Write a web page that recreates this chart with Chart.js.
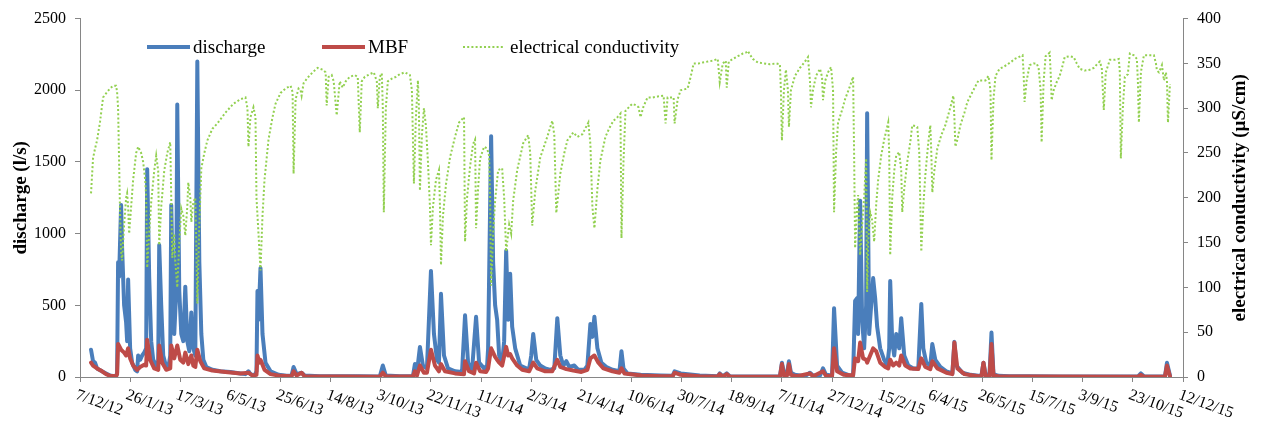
<!DOCTYPE html>
<html>
<head>
<meta charset="utf-8">
<script src="https://cdn.jsdelivr.net/npm/chart.js@4"></script>
<style>
html,body{margin:0;padding:0;background:#fff;}
#wrap{width:1261px;height:428px;position:relative;}
</style>
</head>
<body>
<div id="wrap"><canvas id="c"></canvas></div>
<script>
// x values: days since 7/12/12
const tickLabels = ["7/12/12","26/1/13","17/3/13","6/5/13","25/6/13","14/8/13","3/10/13","22/11/13","11/1/14","2/3/14","21/4/14","10/6/14","30/7/14","18/9/14","7/11/14","27/12/14","15/2/15","6/4/15","26/5/15","15/7/15","3/9/15","23/10/15","12/12/15"];
const seriesNames = ["discharge","MBF","electrical conductivity"];
const axisTitles = ["discharge (l/s)", "electrical conductivity (µS/cm)"];

const dischargeSeries = [
[11,190],[13,110],[15,100],[17,60],[22,40],[26,25],[30,10],[34,5],[36,5],[37,30],[38,800],[39,700],[41,1200],[42,900],[44,500],[46,380],[47,250],[48,680],[50,200],[52,100],[55,50],[57,40],[58,150],[60,120],[62,150],[64,170],[66,200],[67,1450],[69,700],[71,250],[73,120],[76,80],[78,100],[79,920],[81,500],[83,150],[86,70],[88,60],[90,150],[91,1200],[93,500],[94,300],[96,600],[97,1900],[99,600],[101,300],[103,250],[105,630],[107,250],[109,180],[111,450],[113,200],[115,150],[117,2200],[119,800],[121,300],[123,120],[126,70],[132,50],[140,40],[150,35],[160,25],[165,20],[168,40],[170,20],[174,10],[176,40],[177,600],[178,400],[180,760],[182,300],[185,100],[190,40],[198,15],[206,8],[211,10],[213,70],[216,20],[221,30],[224,10],[239,5],[279,5],[299,3],[302,80],[305,10],[319,5],[332,5],[334,90],[336,30],[339,210],[342,80],[346,60],[350,740],[353,300],[356,120],[358,100],[360,580],[363,150],[367,60],[374,40],[381,35],[384,430],[387,100],[391,50],[395,420],[398,100],[403,60],[406,80],[407,200],[410,1680],[412,800],[414,500],[416,400],[418,150],[421,100],[423,250],[425,880],[427,400],[429,720],[431,350],[434,200],[439,80],[445,60],[448,60],[450,150],[452,300],[455,120],[459,80],[464,60],[469,50],[473,60],[476,410],[479,150],[482,80],[485,110],[488,70],[493,80],[497,50],[503,50],[506,80],[509,370],[511,280],[513,420],[516,200],[520,100],[525,70],[531,50],[538,40],[540,180],[542,60],[546,25],[559,15],[579,10],[591,8],[593,40],[599,25],[618,10],[636,5],[638,25],[641,5],[645,25],[648,5],[678,3],[698,3],[700,100],[702,30],[705,20],[707,110],[709,30],[713,15],[723,5],[728,30],[731,10],[738,10],[741,60],[744,15],[750,10],[752,480],[755,80],[760,30],[768,10],[771,15],[773,530],[775,550],[776,300],[778,1230],[780,400],[782,200],[784,500],[785,1840],[787,300],[789,500],[791,690],[793,550],[795,350],[798,200],[802,120],[805,80],[807,200],[808,670],[810,250],[812,150],[814,300],[817,200],[819,410],[822,150],[826,80],[831,60],[836,60],[839,510],[841,200],[844,100],[848,80],[850,230],[853,120],[858,70],[864,40],[870,25],[872,245],[874,80],[880,30],[888,15],[896,8],[899,10],[901,100],[903,20],[907,10],[909,310],[911,20],[916,8],[927,5],[947,5],[977,3],[1017,3],[1055,3],[1058,25],[1061,5],[1082,3],[1084,100],[1086,40],[1087,10]
];

const mbfSeries = [
[11,100],[13,80],[17,60],[22,40],[26,20],[30,8],[36,5],[37,20],[38,230],[41,190],[44,170],[46,150],[48,200],[50,130],[53,80],[57,50],[60,70],[64,85],[66,80],[67,260],[70,120],[74,60],[78,50],[79,220],[82,100],[86,50],[90,60],[91,220],[94,130],[97,220],[100,120],[103,100],[105,170],[108,90],[111,150],[113,80],[115,70],[117,190],[120,110],[124,60],[132,45],[145,35],[160,25],[168,30],[172,10],[176,15],[177,150],[179,100],[180,120],[184,50],[190,20],[200,8],[211,5],[213,40],[216,10],[221,30],[224,5],[299,2],[302,30],[305,3],[332,3],[334,40],[336,10],[339,80],[343,30],[346,30],[350,190],[354,80],[358,40],[360,90],[364,40],[374,25],[383,20],[384,110],[388,40],[393,25],[395,100],[399,40],[405,35],[407,60],[410,200],[414,140],[416,120],[418,100],[421,80],[425,210],[427,150],[429,160],[431,130],[436,80],[441,50],[448,40],[452,100],[456,60],[464,40],[471,40],[476,120],[479,70],[485,55],[492,45],[500,35],[506,50],[509,130],[513,150],[517,100],[522,60],[531,40],[538,30],[540,60],[543,25],[560,10],[580,5],[591,5],[593,30],[599,15],[618,5],[636,3],[638,20],[641,3],[645,20],[648,3],[698,2],[700,90],[702,10],[705,10],[707,90],[709,15],[715,5],[728,25],[731,5],[741,40],[744,8],[750,5],[752,200],[755,40],[762,15],[771,10],[773,130],[776,110],[778,240],[781,130],[784,120],[785,100],[788,150],[791,200],[794,180],[798,100],[803,70],[806,60],[808,120],[811,80],[814,100],[817,80],[819,150],[823,80],[828,60],[836,55],[839,130],[843,70],[848,55],[850,110],[855,60],[864,30],[870,20],[872,240],[875,60],[882,20],[896,5],[899,5],[901,100],[903,10],[907,5],[909,230],[911,10],[916,5],[947,3],[1055,2],[1058,15],[1061,2],[1082,2],[1084,80],[1086,30],[1087,5]
];

const ecSeries = [
[11,205],[13,244],[15,255],[17,264],[20,285],[23,312],[27,318],[30,322],[33,325],[36,325],[37,318],[38,300],[39,240],[40,180],[41,140],[42,130],[44,170],[46,200],[47,205],[48,190],[49,160],[51,190],[53,220],[56,250],[58,257],[61,250],[63,240],[65,220],[66,200],[67,122],[69,160],[71,195],[74,230],[76,247],[78,230],[79,147],[81,190],[84,230],[87,250],[90,262],[91,200],[92,133],[94,160],[95,130],[97,100],[99,150],[101,188],[103,180],[105,158],[107,190],[108,217],[110,200],[111,173],[113,195],[115,200],[116,150],[117,82],[119,170],[121,233],[124,250],[127,264],[132,277],[137,283],[145,295],[153,305],[160,310],[165,312],[167,300],[168,257],[170,290],[173,301],[175,290],[176,200],[178,160],[180,119],[182,180],[184,220],[188,265],[192,290],[195,305],[200,317],[205,322],[210,325],[212,318],[213,227],[215,310],[218,322],[220,320],[221,314],[223,328],[227,334],[232,340],[237,345],[242,343],[245,340],[246,303],[248,335],[251,337],[253,330],[256,292],[259,330],[262,323],[265,330],[269,335],[274,337],[277,335],[279,273],[281,330],[284,335],[289,338],[293,340],[296,330],[297,300],[299,335],[301,339],[302,300],[303,184],[305,300],[307,330],[311,333],[315,335],[319,338],[324,340],[329,337],[331,320],[333,216],[335,290],[337,331],[338,300],[339,208],[341,270],[343,300],[345,280],[347,240],[349,190],[350,147],[352,190],[355,220],[358,231],[359,190],[360,125],[362,180],[365,215],[369,245],[374,268],[378,284],[383,290],[384,151],[386,200],[389,235],[392,260],[394,265],[395,166],[397,210],[399,244],[403,257],[406,255],[408,247],[409,200],[410,102],[412,160],[414,197],[417,231],[421,233],[423,200],[425,140],[428,170],[430,160],[432,197],[436,231],[442,261],[447,270],[449,250],[451,169],[454,208],[459,245],[466,268],[471,286],[473,270],[475,183],[479,227],[483,250],[486,264],[492,273],[496,268],[501,271],[507,284],[509,260],[511,190],[513,166],[516,210],[519,242],[524,268],[528,278],[532,286],[536,290],[539,294],[540,155],[542,240],[544,297],[549,303],[551,305],[555,303],[557,301],[559,290],[562,302],[566,312],[571,312],[576,313],[582,314],[584,283],[586,312],[592,312],[593,283],[596,310],[599,320],[606,322],[609,335],[612,350],[617,350],[621,351],[626,352],[631,353],[636,355],[638,329],[641,350],[644,353],[645,323],[647,352],[651,355],[656,358],[661,361],[664,362],[666,364],[668,360],[671,355],[676,351],[682,350],[688,349],[694,350],[698,349],[699,320],[700,264],[702,320],[704,343],[706,320],[707,279],[709,320],[713,336],[718,345],[723,352],[726,357],[728,330],[729,301],[731,320],[734,336],[738,344],[740,335],[741,309],[743,330],[746,340],[749,346],[751,320],[752,184],[754,250],[756,284],[760,298],[763,310],[768,325],[771,335],[772,250],[773,144],[775,190],[776,203],[778,136],[780,170],[782,200],[784,244],[785,95],[786,150],[788,184],[790,175],[792,151],[794,192],[796,220],[799,247],[802,265],[806,284],[807,250],[808,136],[810,200],[812,230],[814,247],[817,251],[819,230],[820,184],[822,210],[825,240],[828,262],[830,281],[833,280],[835,279],[837,250],[839,140],[841,190],[843,225],[846,262],[848,281],[849,250],[850,206],[852,230],[855,255],[859,270],[863,281],[868,301],[871,314],[872,290],[873,257],[875,265],[878,281],[882,295],[885,307],[890,318],[896,331],[903,331],[906,336],[908,320],[909,242],[911,310],[913,336],[917,344],[921,346],[925,349],[929,352],[932,355],[936,357],[940,359],[941,340],[942,307],[944,330],[947,348],[951,350],[954,350],[956,345],[958,320],[959,262],[961,330],[963,358],[967,362],[968,340],[969,309],[971,320],[974,329],[977,336],[980,348],[982,357],[987,358],[991,357],[994,350],[997,344],[1002,342],[1007,343],[1011,345],[1015,350],[1017,352],[1019,345],[1021,298],[1023,340],[1027,354],[1032,354],[1036,355],[1037,340],[1038,244],[1040,300],[1042,335],[1045,338],[1047,361],[1051,359],[1054,355],[1055,330],[1056,284],[1058,340],[1061,359],[1066,359],[1071,359],[1073,350],[1074,342],[1076,340],[1078,345],[1079,348],[1081,331],[1083,340],[1084,330],[1085,284],[1087,327]
];

const toXY = s => s.map(p => ({x: p[0], y: p[1]}));

const BLUE = '#4a7ebb', RED = '#be4b48', GREEN = '#92d050', AXIS = '#868686';
const SERIF = '"Liberation Serif", "Times New Roman", serif';

const customPlugin = {
  id: 'custom',
  afterDraw(chart) {
    const ctx = chart.ctx;
    const xs = chart.scales.x;
    const ca = chart.chartArea;
    ctx.save();
    // rotated x tick labels
    ctx.fillStyle = '#000';
    ctx.font = '16px ' + SERIF;
    ctx.textAlign = 'left';
    ctx.textBaseline = 'top';
    xs.ticks.forEach(t => {
      const px = xs.getPixelForValue(t.value);
      const lbl = tickLabels[Math.round(t.value / 50)];
      if (lbl === undefined) return;
      ctx.save();
      ctx.translate(px - 1, 387);
      ctx.rotate(20 * Math.PI / 180);
      ctx.fillText(lbl, 0, 0);
      ctx.restore();
    });
    // right axis title, reading bottom-to-top
    ctx.save();
    ctx.font = 'bold 19px ' + SERIF;
    ctx.textAlign = 'center';
    ctx.textBaseline = 'middle';
    ctx.translate(1240, (ca.top + ca.bottom) / 2);
    ctx.rotate(-Math.PI / 2);
    ctx.fillText(axisTitles[1], 0, 0);
    ctx.restore();
    // legend
    const items = [
      {x1: 147, x2: 190, tx: 193, color: BLUE, dash: [], w: 4, name: seriesNames[0]},
      {x1: 322, x2: 365, tx: 368, color: RED, dash: [], w: 4, name: seriesNames[1]},
      {x1: 463, x2: 505, tx: 510, color: GREEN, dash: [2, 2.2], w: 2, name: seriesNames[2]}
    ];
    const ly = 47;
    items.forEach(it => {
      ctx.save();
      ctx.strokeStyle = it.color;
      ctx.lineWidth = it.w;
      ctx.setLineDash(it.dash);
      ctx.lineCap = 'butt';
      ctx.beginPath();
      ctx.moveTo(it.x1, ly);
      ctx.lineTo(it.x2, ly);
      ctx.stroke();
      ctx.restore();
      ctx.fillStyle = '#000';
      ctx.font = '19px ' + SERIF;
      ctx.textAlign = 'left';
      ctx.textBaseline = 'middle';
      ctx.fillText(it.name, it.tx, ly + 1);
    });
    ctx.restore();
  }
};

new Chart(document.getElementById('c'), {
  type: 'line',
  data: {
    datasets: [
      {label: seriesNames[0], data: toXY(dischargeSeries), yAxisID: 'y', borderColor: BLUE, borderWidth: 4, order: 3, borderJoinStyle: 'round', borderCapStyle: 'round'},
      {label: seriesNames[1], data: toXY(mbfSeries), yAxisID: 'y', borderColor: RED, borderWidth: 4, order: 2, borderJoinStyle: 'round', borderCapStyle: 'round'},
      {label: seriesNames[2], data: toXY(ecSeries), yAxisID: 'y2', borderColor: GREEN, borderWidth: 2, borderDash: [2, 2.2], order: 1, borderCapStyle: 'butt'}
    ]
  },
  options: {
    responsive: true,
    maintainAspectRatio: false,
    animation: false,
    layout: {padding: {top: 18, left: 0, right: 0, bottom: 0}},
    elements: {point: {radius: 0, hoverRadius: 0}, line: {tension: 0, fill: false}},
    plugins: {legend: {display: false}, tooltip: {enabled: false}},
    events: [],
    scales: {
      x: {
        type: 'linear', min: 0, max: 1100,
        ticks: {stepSize: 50, display: false},
        grid: {display: true, drawOnChartArea: false, drawTicks: true, tickLength: 5, color: AXIS},
        border: {display: true, color: AXIS, width: 1},
        afterFit(s) { s.height = 51; }
      },
      y: {
        position: 'left', min: 0, max: 2500,
        ticks: {stepSize: 500, color: '#000', padding: 9, font: {family: SERIF, size: 16}, callback: v => String(v)},
        grid: {display: true, drawOnChartArea: false, drawTicks: true, tickLength: 5, color: AXIS},
        border: {display: true, color: AXIS, width: 1},
        title: {display: true, text: axisTitles[0], color: '#000', font: {family: SERIF, size: 19, weight: 'bold'}, padding: {top: 10, bottom: 0}},
        afterFit(s) { s.width = 80; }
      },
      y2: {
        position: 'right', min: 0, max: 400,
        ticks: {stepSize: 50, color: '#000', padding: 9, font: {family: SERIF, size: 16}, callback: v => String(v)},
        grid: {display: true, drawOnChartArea: false, drawTicks: true, tickLength: 5, color: AXIS},
        border: {display: true, color: AXIS, width: 1},
        title: {display: false},
        afterFit(s) { s.width = 78; }
      }
    }
  },
  plugins: [customPlugin]
});
</script>
</body>
</html>
